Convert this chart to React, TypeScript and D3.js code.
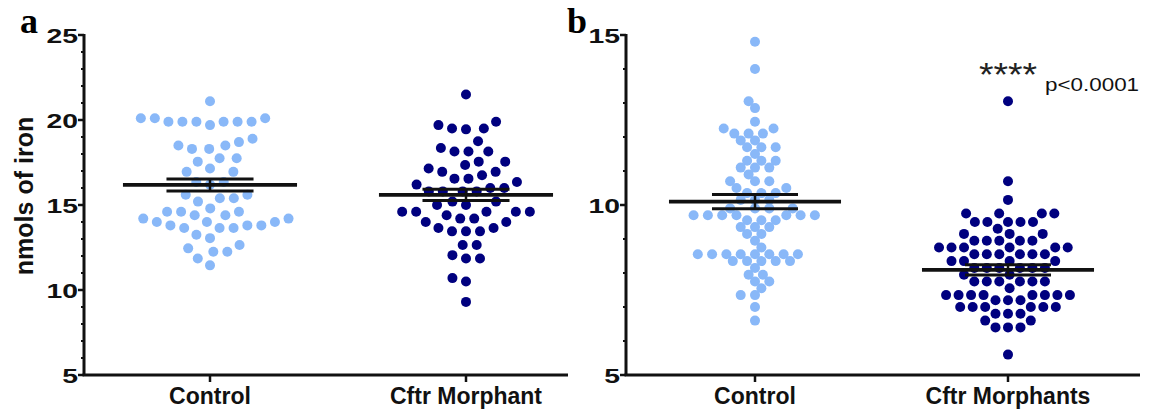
import React from 'react';
import * as d3 from 'd3';

// values (nmols of iron per sample)
const groupsA = ['Control', 'Cftr Morphant'];
const groupsB = ['Control', 'Cftr Morphants'];

const controlA = [21.1, 20.1, 20.1, 20.1, 19.9, 19.9, 19.9, 19.9, 19.9, 19.9, 19.7,
  18.9, 18.7, 18.5, 18.5, 18.3, 18.3, 17.75, 17.75, 17.55, 17.15, 16.95, 16.95,
  16.35, 16.35, 16.2, 15.6, 15.6, 15.4, 15.4, 15.2, 14.8, 14.6, 14.6, 14.6,
  14.4, 14.4, 14.2, 14.2, 14.0, 14.0, 14.0, 13.8, 13.8, 13.8, 13.65, 13.65, 13.65,
  13.25, 13.05, 12.65, 12.45, 12.25, 12.25, 11.85, 11.45];

const morphantA = [21.5, 19.9, 19.7, 19.5, 19.5, 19.45, 18.75, 18.35, 18.15, 18.15, 18.15,
  17.55, 17.55, 17.35, 17.15, 16.95, 16.95, 16.75, 16.55, 16.55, 16.35, 16.2, 16.0, 16.0,
  15.8, 15.8, 15.8, 15.8, 15.2, 15.2, 15.0, 15.0, 14.6, 14.6, 14.6, 14.6, 14.6, 14.4,
  14.2, 14.2, 14.0, 14.0, 13.65, 13.65, 13.45, 13.45, 13.45, 12.65, 12.65, 12.05,
  11.85, 11.85, 10.7, 10.5, 9.3];

const controlB = [14.8, 14.0, 13.05, 12.85, 12.45, 12.25, 12.25, 12.1, 12.1, 12.1,
  11.9, 11.9, 11.7, 11.7, 11.7, 11.5, 11.3, 11.3, 11.3, 11.1, 11.1, 11.1, 10.9,
  10.7, 10.7, 10.7, 10.5, 10.5, 10.35, 10.35, 10.35, 10.15, 10.15, 10.15,
  9.9, 9.9, 9.9, 9.9, 9.7, 9.7, 9.7, 9.7, 9.7, 9.7, 9.7, 9.55, 9.55, 9.55,
  9.35, 9.35, 9.35, 9.15, 9.15, 8.95, 8.75, 8.55, 8.55, 8.55, 8.55, 8.55, 8.55, 8.55, 8.55,
  8.35, 8.35, 8.35, 8.35, 8.35, 8.15, 7.95, 7.95, 7.75, 7.75, 7.55, 7.35, 7.35, 7.0, 6.6];

const morphantB = [13.05, 10.7, 10.15, 9.75, 9.75, 9.75, 9.75, 9.5, 9.5, 9.5, 9.5, 9.5,
  9.3, 9.15, 9.15, 9.15, 8.95, 8.95, 8.95, 8.95, 8.95, 8.75, 8.75, 8.75, 8.75, 8.75, 8.75,
  8.55, 8.55, 8.55, 8.55, 8.55, 8.55, 8.35, 8.35, 8.35, 8.35, 8.15, 8.15, 8.15, 8.15, 8.15, 8.15,
  7.95, 7.95, 7.75, 7.75, 7.75, 7.75, 7.75, 7.75, 7.55, 7.35, 7.35, 7.35, 7.35, 7.35, 7.35, 7.35, 7.35,
  7.2, 7.2, 7.2, 7.0, 7.0, 7.0, 7.0, 7.0, 7.0, 6.8, 6.8, 6.8, 6.6, 6.6, 6.4, 6.4, 6.4, 5.6];

// mean and SEM bars as drawn
const meansA = [16.18, 15.6];
const semsA = [0.35, 0.33];
const meansB = [10.1, 8.09];
const semsB = [0.21, 0.15];

const ticksA = [5, 10, 15, 20, 25];
const ticksB = [5, 10, 15];

const colors = ['#89b8f8', '#00007f'];
const sans = '"Liberation Sans", Arial, sans-serif';

const TOP = 35;
const BOTTOM = 375;

// greedy beeswarm, smallest values first, each dot as close to the centre as it can go.
// dh = horizontal spacing of dots in a row, dv = vertical distance at which dots stop bumping
function swarm(values: number[], y: (v: number) => number, dh: number, dv: number) {
  const items = values.map((v) => ({ v, py: y(v), dx: 0 }));
  const order = items.slice().sort((a, b) => a.v - b.v);
  const placed: typeof items = [];
  let flip = false;
  for (const p of order) {
    const near = placed.filter((q) => Math.abs(q.py - p.py) < dv);
    const gap = (q: any) => dh * Math.sqrt(1 - ((q.py - p.py) / dv) ** 2);
    const cands = [0];
    near.forEach((q) => { cands.push(q.dx - gap(q), q.dx + gap(q)); });
    const valid = cands.filter((c) => near.every((q) => Math.abs(c - q.dx) >= gap(q) - 1e-6));
    valid.sort((a, b) => Math.abs(a) - Math.abs(b) || (flip ? b - a : a - b));
    p.dx = valid[0];
    if (valid.length > 1 && Math.abs(Math.abs(valid[0]) - Math.abs(valid[1])) < 1e-6) flip = !flip;
    placed.push(p);
  }
  return items;
}

type PanelProps = {
  letter: string;
  letterX: number;
  groups: string[];
  series: number[][];
  means: number[];
  sems: number[];
  domain: [number, number];
  ticks: number[];
  left: number;
  right: number;
  padL: number;
  padR: number;
  spacing: [number, number][];
};

function Panel(p: PanelProps) {
  const y = d3.scaleLinear().domain(p.domain).range([BOTTOM, TOP]);
  const x = d3.scalePoint<string>().domain(p.groups).range([p.left + p.padL, p.right - p.padR]);
  const step = x.step();
  const minor = d3.range(p.domain[0], p.domain[1] + 1, 1).filter((t) => !p.ticks.includes(t));

  return (
    <g>
      <text x={p.letterX} y={33} fontFamily='"Liberation Serif", "Times New Roman", serif'
        fontWeight="bold" fontSize={36}>{p.letter}</text>

      {p.series.map((vals, gi) => {
        const cx = x(p.groups[gi])!;
        const [dh, dv] = p.spacing[gi];
        return swarm(vals, y, dh, dv).map((pt, i) => (
          <circle key={gi + '-' + i} cx={cx + pt.dx} cy={pt.py} r={5} fill={colors[gi]} />
        ));
      })}

      {p.groups.map((g, gi) => {
        const cx = x(g)!;
        const m = y(p.means[gi]);
        const hi = y(p.means[gi] + p.sems[gi]);
        const lo = y(p.means[gi] - p.sems[gi]);
        const mw = step * 0.34;
        const sw = step * 0.17;
        return (
          <g key={g} stroke="#111" fill="none">
            <line x1={cx - mw} x2={cx + mw} y1={m} y2={m} strokeWidth={3.8} />
            <line x1={cx - sw} x2={cx + sw} y1={hi} y2={hi} strokeWidth={3} />
            <line x1={cx - sw} x2={cx + sw} y1={lo} y2={lo} strokeWidth={3} />
            <line x1={cx} x2={cx} y1={hi} y2={lo} strokeWidth={2.5} />
          </g>
        );
      })}

      {/* y axis */}
      <line x1={p.left} x2={p.left} y1={TOP - 1} y2={BOTTOM} stroke="#111" strokeWidth={3} />
      {minor.map((t) => (
        <line key={'m' + t} x1={p.left - 3} x2={p.left} y1={y(t)} y2={y(t)} stroke="#111" strokeWidth={2} />
      ))}
      {p.ticks.map((t) => (
        <g key={'t' + t}>
          <line x1={p.left - 6} x2={p.left} y1={y(t)} y2={y(t)} stroke="#111" strokeWidth={2.5} />
          <text transform={`translate(${p.left - 6},${y(t)}) scale(1.35,1)`} dy="0.36em" textAnchor="end"
            fontFamily={sans} fontWeight="bold" fontSize={21} fill="#111">{t}</text>
        </g>
      ))}

      {/* x axis */}
      <line x1={p.left - 1.5} x2={p.right} y1={BOTTOM} y2={BOTTOM} stroke="#111" strokeWidth={3} />
      {p.groups.map((g) => (
        <g key={'x' + g}>
          <line x1={x(g)} x2={x(g)} y1={BOTTOM} y2={BOTTOM + 7} stroke="#111" strokeWidth={2.5} />
          <text x={x(g)} y={BOTTOM + 29} textAnchor="middle" fontFamily={sans} fontWeight="bold"
            fontSize={23} fill="#111">{g}</text>
        </g>
      ))}
    </g>
  );
}

export default function App() {
  const yB = d3.scaleLinear().domain([5, 15]).range([BOTTOM, TOP]);
  const xStars = 1008;
  return (
    <div style={{ position: 'fixed', left: 0, top: 0 }}>
      <svg width={1153} height={410} style={{ display: 'block', background: '#fff' }}>
        <Panel letter="a" letterX={20} groups={groupsA} series={[controlA, morphantA]} means={meansA} sems={semsA}
          domain={[5, 25]} ticks={ticksA} left={84} right={568} padL={126} padR={102}
          spacing={[[14, 14], [14, 14]]} />
        <Panel letter="b" letterX={567} groups={groupsB} series={[controlB, morphantB]} means={meansB} sems={semsB}
          domain={[5, 15]} ticks={ticksB} left={626} right={1140} padL={129} padR={132}
          spacing={[[14.3, 7.6], [12.5, 12]]} />

        <text x={33} y={196} transform="rotate(-90 33 196)" textAnchor="middle" fontFamily={sans}
          fontWeight="bold" fontSize={25} fill="#111">nmols of iron</text>

        <text transform={`translate(${xStars},${yB(13.5)}) scale(1.1,1)`} textAnchor="middle"
          fontFamily={sans} fontSize={34} fill="#222">****</text>
        <text transform={`translate(1045,${yB(13.35)}) scale(1.18,1)`} fontFamily={sans} fontSize={19}
          fill="#111">p&lt;0.0001</text>
      </svg>
    </div>
  );
}
